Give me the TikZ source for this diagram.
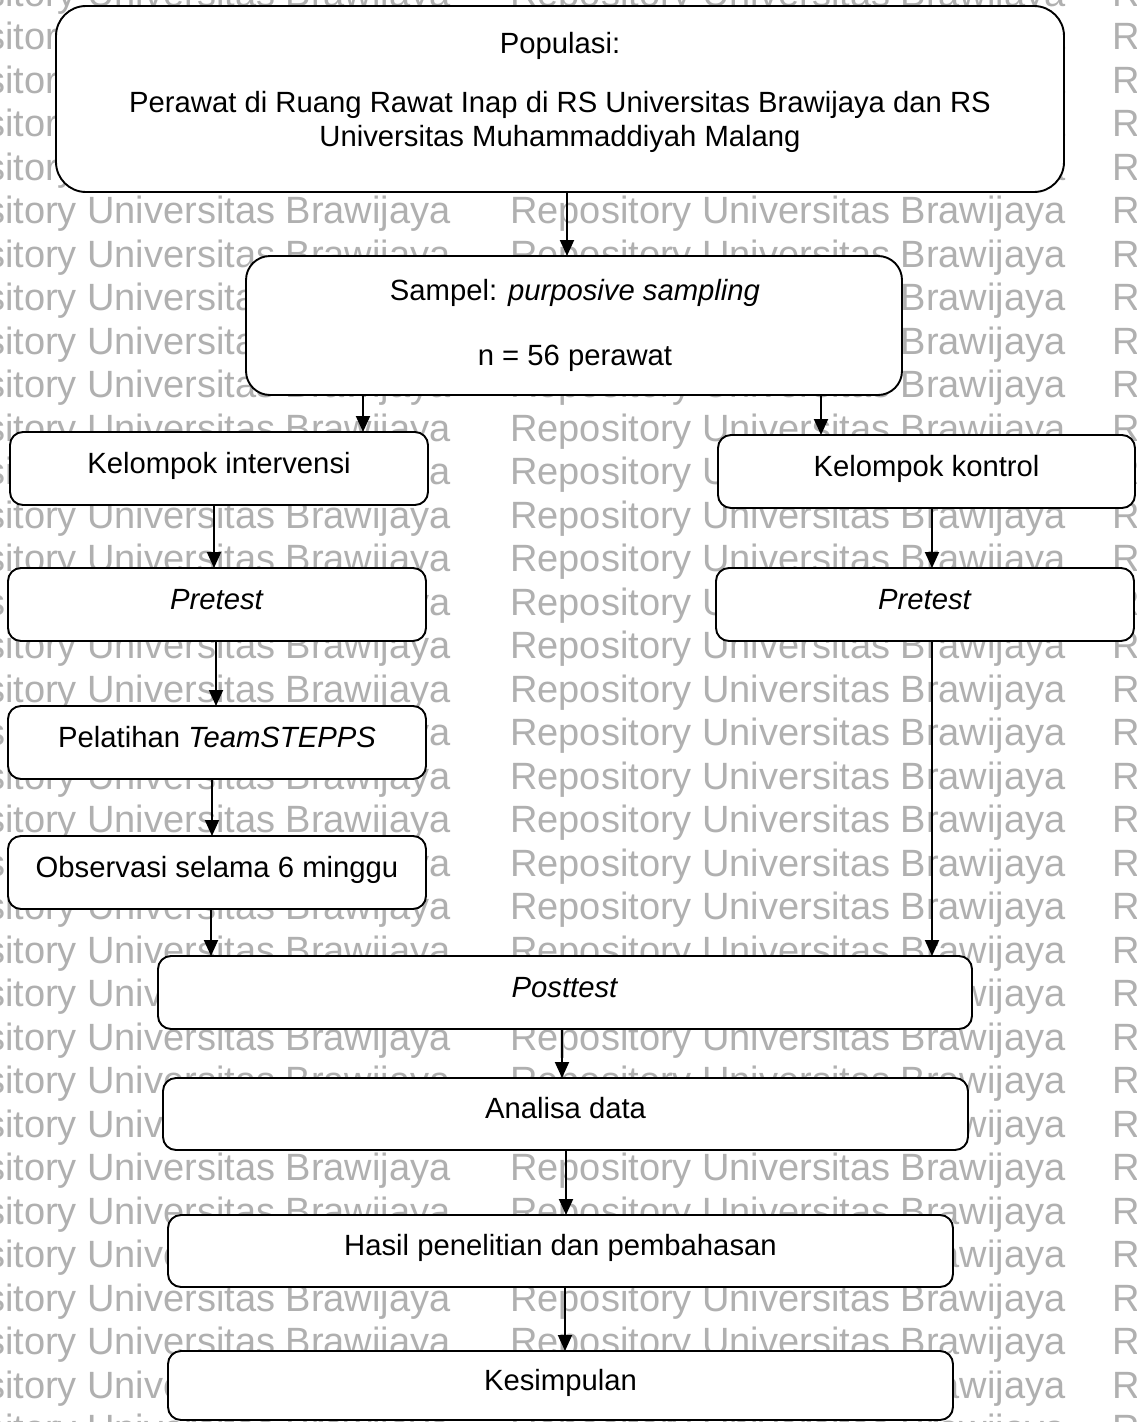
\documentclass[tikz,border=0pt]{standalone}
\usepackage{fontspec}
\setmainfont{Liberation Sans}
\usetikzlibrary{arrows.meta}
\definecolor{wm}{gray}{0.69}
\newcommand{\mainfs}{\fontsize{29.25pt}{34pt}\selectfont}
\newcommand{\wmfs}{\fontsize{38pt}{44pt}\selectfont}
\begin{document}
\begin{tikzpicture}[x=1pt,y=-1pt,
  box/.style={draw=black, fill=white, line width=1.9pt, rounded corners=13pt,
    inner sep=0pt, outer sep=0pt, text height=22pt, text depth=13pt, font=\mainfs},
  sbox/.style={box, minimum width=418pt, minimum height=73pt},
  txt/.style={anchor=base, inner sep=0pt, font=\mainfs},
  wmtext/.style={anchor=base west, inner sep=0pt, text=wm, font=\wmfs},
  arr/.style={-{Triangle[width=14pt,length=16pt]}, line width=1.9pt}]
\useasboundingbox (0,0) rectangle (1136,1422);
\fill[white] (0,0) rectangle (1136,1422);
% watermark
\begin{scope}
\clip (0,0) rectangle (1136,1422);
\foreach \k in {0,...,33}{
  \foreach \c/\xx in {a/-105,b/510,c/1112}{
    \node[wmtext] (wm-\k-\c) at (\xx, 6+43.5*\k) {Repository Universitas Brawijaya};
  }
}
\end{scope}
% boxes
\node[box, rounded corners=30pt, minimum width=1008pt, minimum height=186pt] (pop) at (560,99) {};
\node[txt] (pop-a) at (560,53) {Populasi:};
\node[txt] (pop-b) at (560,112.7) {Perawat di Ruang Rawat Inap di RS Universitas Brawijaya dan RS};
\node[txt] (pop-c) at (560,146.5) {Universitas Muhammaddiyah Malang};
\node[box, rounded corners=24pt, minimum width=656pt, minimum height=139pt] (samp) at (574,325.5) {};
\node[txt] (samp-a) at (575,300) {Sampel: \textit{purposive sampling}};
\node[txt] (samp-b) at (575,365) {n = 56 perawat};
\node[sbox] (kint) at (219,468.5) {Kelompok intervensi};
\node[sbox, minimum width=417pt] (kkon) at (926.5,471.5) {Kelompok kontrol};
\node[sbox] (preL) at (217,604.5) {\textit{Pretest}};
\node[sbox] (preR) at (925,604.5) {\textit{Pretest}};
\node[sbox] (pel) at (217,742.5) {Pelatihan \textit{TeamSTEPPS}};
\node[sbox] (obs) at (217,872.5) {Observasi selama 6 minggu};
\node[sbox, minimum width=814pt] (post) at (565,992.5) {\textit{Posttest}};
\node[sbox, minimum width=805pt, minimum height=72pt] (ana) at (565.5,1114) {Analisa data};
\node[sbox, minimum width=785pt, minimum height=72pt] (hasil) at (560.5,1251) {Hasil penelitian dan pembahasan};
\node[sbox, minimum width=785pt, minimum height=69pt] (kes) at (560.5,1385.5) {Kesimpulan};
% connectors
\coordinate (c1) at ([xshift=7pt]pop.south);
\draw[arr] (c1) -- (c1 |- samp.north);
\coordinate (c2) at ([xshift=-211pt]samp.south);
\draw[arr] (c2) -- (c2 |- kint.north);
\coordinate (c3) at ([xshift=247pt]samp.south);
\draw[arr] (c3) -- (c3 |- kkon.north);
\coordinate (c4) at ([xshift=-5pt]kint.south);
\draw[arr] (c4) -- (c4 |- preL.north);
\coordinate (c5) at ([xshift=5.5pt]kkon.south);
\draw[arr] (c5) -- (c5 |- preR.north);
\coordinate (c6) at ([xshift=-1pt]preL.south);
\draw[arr] (c6) -- (c6 |- pel.north);
\coordinate (c7) at ([xshift=-5pt]pel.south);
\draw[arr] (c7) -- (c7 |- obs.north);
\coordinate (c8) at ([xshift=-6pt]obs.south);
\draw[arr] (c8) -- (c8 |- post.north);
\coordinate (c9) at ([xshift=7pt]preR.south);
\draw[arr] (c9) -- (c9 |- post.north);
\coordinate (c10) at ([xshift=-3pt]post.south);
\draw[arr] (c10) -- (c10 |- ana.north);
\coordinate (c11) at ([xshift=0.5pt]ana.south);
\draw[arr] (c11) -- (c11 |- hasil.north);
\coordinate (c12) at ([xshift=4.5pt]hasil.south);
\draw[arr] (c12) -- (c12 |- kes.north);
\end{tikzpicture}
\end{document}
